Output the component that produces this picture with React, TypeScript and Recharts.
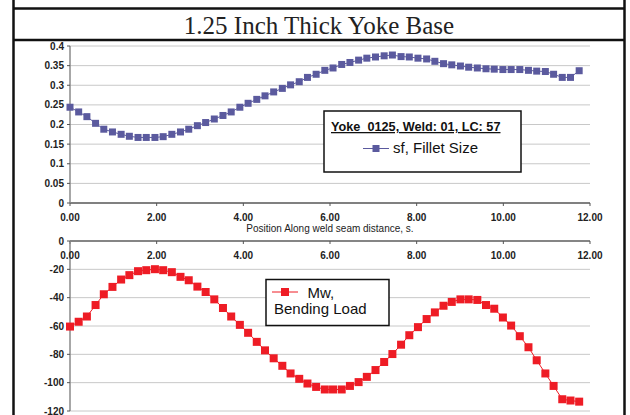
import { LineChart, Line, XAxis, YAxis, CartesianGrid } from 'recharts';

// position along weld seam (s)
const positions = [
  0.0, 0.2, 0.39, 0.59, 0.78, 0.98, 1.18, 1.37, 1.57, 1.76, 1.96, 2.15, 2.35,
  2.55, 2.74, 2.94, 3.13, 3.33, 3.53, 3.72, 3.92, 4.11, 4.31, 4.5, 4.7, 4.9,
  5.09, 5.29, 5.48, 5.68, 5.88, 6.07, 6.27, 6.46, 6.66, 6.85, 7.05, 7.25,
  7.44, 7.64, 7.83, 8.03, 8.23, 8.42, 8.62, 8.81, 9.01, 9.2, 9.4, 9.6, 9.79,
  9.99, 10.18, 10.38, 10.58, 10.77, 10.97, 11.16, 11.36, 11.55, 11.75,
];

// sf, Fillet Size
const filletSize = [
  0.244, 0.232, 0.22, 0.203, 0.188, 0.181, 0.175, 0.17, 0.167, 0.167, 0.167,
  0.169, 0.175, 0.181, 0.188, 0.197, 0.205, 0.214, 0.223, 0.232, 0.244, 0.254,
  0.264, 0.273, 0.283, 0.292, 0.301, 0.309, 0.32, 0.328, 0.338, 0.344, 0.353,
  0.358, 0.364, 0.369, 0.372, 0.375, 0.377, 0.373, 0.372, 0.369, 0.367, 0.361,
  0.355, 0.352, 0.349, 0.346, 0.344, 0.342, 0.341, 0.34, 0.34, 0.34, 0.338,
  0.336, 0.335, 0.328, 0.32, 0.32, 0.337,
];

// Mw, Bending Load
const bendingLoad = [
  -60.4, -57.0, -53.3, -45.2, -37.6, -32.4, -27.2, -24.1, -21.3, -20.6, -19.9,
  -20.6, -22.0, -25.3, -27.7, -32.2, -36.0, -41.2, -47.3, -53.3, -59.2, -64.8,
  -71.2, -77.2, -82.8, -88.1, -93.5, -97.3, -100.6, -103.0, -104.8, -104.8,
  -104.8, -102.3, -99.6, -95.9, -91.1, -85.4, -79.8, -73.2, -66.5, -60.8,
  -55.1, -50.4, -45.7, -43.0, -41.2, -41.2, -41.6, -45.2, -47.8, -54.0, -59.7,
  -67.2, -75.0, -84.2, -93.5, -102.3, -111.7, -112.6, -113.4,
];

const xTicks = [0, 2, 4, 6, 8, 10, 12];
const sfTicks = [0, 0.05, 0.1, 0.15, 0.2, 0.25, 0.3, 0.35, 0.4];
const mwTicks = [-120, -100, -80, -60, -40, -20, 0];

const data = positions.map((x, i) => ({
  x,
  sf: filletSize[i],
  mw: bendingLoad[i],
}));

const SANS = 'Liberation Sans, Arial, sans-serif';
const PURPLE = '#5b5a9e';
const RED = '#ee1c25';
const tickStyle = { fontFamily: SANS, fontSize: 10, fontWeight: 700, fill: '#222' };

const square = (color: string, size: number) => (props: any) => {
  const { cx, cy, index } = props;
  if (cx == null || cy == null) return <g key={`e${index}`} />;
  return (
    <rect
      key={`d${index}`}
      x={cx - size / 2}
      y={cy - size / 2}
      width={size}
      height={size}
      fill={color}
      stroke="none"
    />
  );
};

export default function App() {
  return (
    <div
      style={{
        position: 'absolute',
        left: 0,
        top: 0,
        width: 630,
        height: 415,
        overflow: 'hidden',
        background: '#fff',
      }}
    >
      <div style={{ position: 'absolute', left: 0, top: 0 }}>
        <LineChart
          width={630}
          height={240}
          data={data}
          margin={{ top: 46, right: 40, left: 10, bottom: 7 }}
        >
          <CartesianGrid vertical={false} stroke="#c8c8c8" strokeWidth={1} />
          <XAxis
            type="number"
            dataKey="x"
            domain={[0, 12]}
            ticks={xTicks}
            interval={0}
            tickFormatter={(v: number) => v.toFixed(2)}
            height={30}
            tickSize={3}
            tickMargin={8}
            tick={tickStyle}
            stroke="#808080"
            strokeWidth={2}
            tickLine={{ stroke: '#555', strokeWidth: 1 }}
            label={{
              value: 'Position Along weld seam distance, s.',
              position: 'insideBottom',
              offset: 1,
              style: { fontFamily: SANS, fontSize: 10, fill: '#222' },
            }}
          />
          <YAxis
            type="number"
            domain={[0, 0.4]}
            ticks={sfTicks}
            interval={0}
            width={60}
            tickSize={3}
            tickMargin={3}
            tick={tickStyle}
            stroke="#8a8a8a"
            strokeWidth={1.5}
            tickLine={{ stroke: '#555', strokeWidth: 1 }}
          />
          <Line
            type="linear"
            dataKey="sf"
            stroke={PURPLE}
            strokeWidth={1}
            dot={square(PURPLE, 7)}
            activeDot={false}
            isAnimationActive={false}
          />
        </LineChart>
      </div>

      <div style={{ position: 'absolute', left: 0, top: 0 }}>
        <LineChart
          width={630}
          height={415}
          data={data}
          margin={{ top: 241, right: 40, left: 10, bottom: 4 }}
        >
          <CartesianGrid vertical={false} stroke="#c8c8c8" strokeWidth={1} />
          <XAxis
            type="number"
            dataKey="x"
            orientation="top"
            mirror
            domain={[0, 12]}
            ticks={xTicks}
            interval={0}
            tickFormatter={(v: number) => v.toFixed(2)}
            height={1}
            tickSize={3}
            tickMargin={8}
            tick={tickStyle}
            stroke="#666"
            strokeWidth={1.5}
            tickLine={{ stroke: '#555', strokeWidth: 1 }}
          />
          <YAxis
            type="number"
            domain={[-120, 0]}
            ticks={mwTicks}
            interval={0}
            width={60}
            tickSize={3}
            tickMargin={3}
            tick={tickStyle}
            stroke="#8a8a8a"
            strokeWidth={1.5}
            tickLine={{ stroke: '#555', strokeWidth: 1 }}
          />
          <Line
            type="linear"
            dataKey="mw"
            stroke={RED}
            strokeWidth={1}
            dot={square(RED, 8)}
            activeDot={false}
            isAnimationActive={false}
          />
        </LineChart>
      </div>

      <svg
        width={630}
        height={415}
        style={{ position: 'absolute', left: 0, top: 0, pointerEvents: 'none' }}
      >
        {/* outer frame and title box */}
        <line x1={13.5} y1={0} x2={13.5} y2={415} stroke="#111" strokeWidth={2.5} />
        <line x1={624.5} y1={0} x2={624.5} y2={415} stroke="#111" strokeWidth={2.5} />
        <line x1={13} y1={8.5} x2={625} y2={8.5} stroke="#111" strokeWidth={2.5} />
        <line x1={13} y1={40} x2={625} y2={40} stroke="#111" strokeWidth={2.5} />
        <text
          x={319}
          y={34}
          textAnchor="middle"
          fontFamily="Liberation Serif, Times New Roman, serif"
          fontSize={25}
          fill="#222"
        >
          1.25 Inch Thick Yoke Base
        </text>

        {/* legend, top chart */}
        <rect x={324} y={111} width={197} height={61} fill="#fff" stroke="#111" strokeWidth={1.5} />
        <text
          x={331}
          y={131}
          fontFamily={SANS}
          fontSize={12.7}
          fontWeight={700}
          textDecoration="underline"
          fill="#111"
        >
          Yoke_0125, Weld: 01, LC: 57
        </text>
        <line x1={363} y1={148.5} x2={389} y2={148.5} stroke={PURPLE} strokeWidth={1} />
        <rect x={372.5} y={145} width={7} height={7} fill={PURPLE} />
        <text x={393} y={153} fontFamily={SANS} fontSize={15} fill="#111">
          sf, Fillet Size
        </text>

        {/* legend, bottom chart */}
        <rect x={266} y={279.5} width={123} height={46} fill="#fff" stroke="#111" strokeWidth={1.5} />
        <line x1={272} y1={292} x2={298} y2={292} stroke={RED} strokeWidth={1} />
        <rect x={281} y={288} width={8} height={8} fill={RED} />
        <text x={307.5} y={298.3} fontFamily={SANS} fontSize={15} fill="#111">
          Mw,
        </text>
        <text x={274} y={314.3} fontFamily={SANS} fontSize={15} fill="#111">
          Bending Load
        </text>
      </svg>
    </div>
  );
}
